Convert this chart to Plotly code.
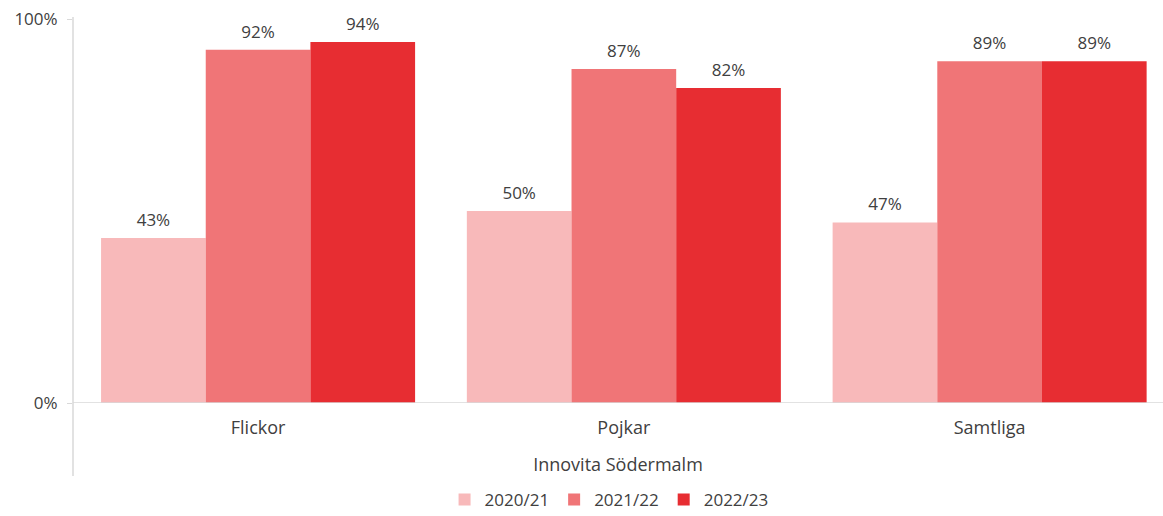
import plotly.graph_objects as go

categories = ["Flickor", "Pojkar", "Samtliga"]
series_names = ["2020/21", "2021/22", "2022/23"]
values_2020 = [0.43, 0.50, 0.47]
values_2021 = [0.92, 0.87, 0.89]
values_2022 = [0.94, 0.82, 0.89]
colors = ["#F8B9BA", "#F07577", "#E72D32"]
y_tickvals = [0, 1]
y_ticktext = ["0%", "100%"]
x_title = "Innovita Södermalm"

FONT = "'Open Sans', sans-serif"
TXT = "#404040"
AX = "#D9D9D9"
GAP = 0.1415

fig = go.Figure()
all_vals = [values_2020, values_2021, values_2022]
for name, vals, col in zip(series_names, all_vals, colors):
    fig.add_trace(go.Bar(
        x=categories, y=vals, name=name, marker=dict(color=col, line=dict(width=0)),
    ))
for name, vals in zip(series_names, all_vals):
    fig.add_trace(go.Scatter(
        x=categories, y=vals, mode="markers+text", showlegend=False, hoverinfo="skip",
        text=[f"{round(v*100)}%" for v in vals], textposition="top center",
        textfont=dict(family=FONT, size=17, color=TXT), cliponaxis=False,
        marker=dict(size=11, color="rgba(0,0,0,0)"),
    ))

fig.update_layout(
    width=1163, height=516,
    margin=dict(l=73, r=0, t=19, b=113, autoexpand=False),
    paper_bgcolor="white", plot_bgcolor="white",
    barmode="group", bargap=GAP, bargroupgap=0,
    scattermode="group", scattergap=GAP,
    font=dict(family=FONT, size=17, color=TXT),
    showlegend=True,
    legend=dict(orientation="h", xref="container", yref="container", x=0.5237, y=0.031,
                xanchor="center", yanchor="middle", font=dict(size=17, color=TXT),
                itemwidth=30, traceorder="normal"),
)
fig.update_xaxes(
    range=[-0.506, 2.474], showgrid=False, zeroline=False, showline=False, automargin=False,
    ticks="outside", ticklen=8, tickcolor="rgba(0,0,0,0)",
    tickfont=dict(family=FONT, size=18, color=TXT),
    title=dict(text=x_title, standoff=20, font=dict(family=FONT, size=18, color=TXT)),
)
fig.update_yaxes(
    range=[0, 1], tickvals=y_tickvals, ticktext=y_ticktext, showgrid=False, automargin=False,
    zeroline=False, showline=False, ticks="outside", ticklen=5, tickcolor=AX,
    ticklabelstandoff=6,
    tickfont=dict(family=FONT, size=17, color=TXT),
)
# axis lines (vertical axis extends down past category labels)
fig.add_shape(type="line", xref="paper", yref="paper", x0=0, x1=0, y0=-0.19, y1=1.005,
              line=dict(color=AX, width=1.5))
fig.add_shape(type="line", xref="paper", yref="y", x0=0, x1=1, y0=0, y1=0,
              line=dict(color=AX, width=1.5))

fig.write_html("out.html", config={"displayModeBar": False},
               post_script="document.body.style.margin='0';document.body.style.overflow='hidden';")
